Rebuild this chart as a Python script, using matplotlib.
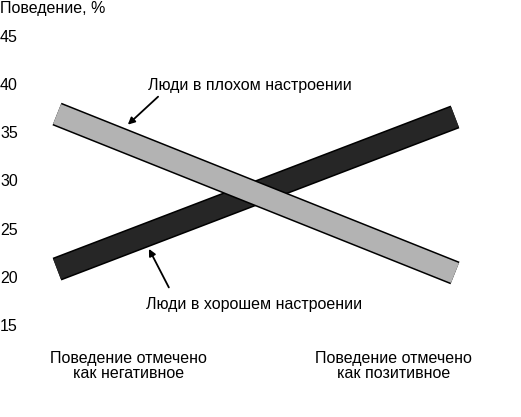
import matplotlib
matplotlib.use("Agg")
import matplotlib.pyplot as plt
import matplotlib.patheffects as pe

plt.rcParams['font.family'] = ['Liberation Sans', 'DejaVu Sans']

# Data
x_ends = [0, 1]
bad_mood = [36.9, 20.4]    # Люди в плохом настроении
good_mood = [20.8, 36.6]   # Люди в хорошем настроении
y_ticks = [15, 20, 25, 30, 35, 40, 45]
categories = ["Поведение отмечено\nкак негативное", "Поведение отмечено\nкак позитивное"]
category_pos = [0.18, 0.845]

W, H = 521, 417
fig = plt.figure(figsize=(W / 100, H / 100), dpi=100)
ax = fig.add_axes([57 / W, 92 / H, 398 / W, 289 / H])
ax.set_xlim(0, 1)
ax.set_ylim(15, 45)

lw = 17.5
for vals, col, z in [(good_mood, '#262626', 2), (bad_mood, '#b3b3b3', 3)]:
    ax.plot(x_ends, vals, color=col, lw=lw - 2.2, solid_capstyle='butt', clip_on=False,
            path_effects=[pe.Stroke(linewidth=lw, foreground='black', capstyle='butt'), pe.Normal()],
            zorder=z)

for s in ax.spines.values():
    s.set_visible(False)

ax.set_yticks(y_ticks)
ax.set_yticklabels([str(v) for v in y_ticks])
ax.tick_params(axis='y', length=0, pad=41, labelsize=11.5)
for t in ax.get_yticklabels():
    t.set_horizontalalignment('left')

ax.set_xticks(category_pos)
ax.set_xticklabels(categories, fontsize=11.5, linespacing=1.0)
ax.tick_params(axis='x', length=0, pad=19)

fig.text(0.0, 1 - 9 / H, "Поведение, %", fontsize=11.5, ha='left', va='center')

arrow = dict(arrowstyle='-|>', color='black', lw=1.3, shrinkA=0, shrinkB=0, mutation_scale=10)

ax.text(0.485, 39.9, "Люди в плохом настроении", ha='center', va='center', fontsize=11.5)
ax.annotate("", xy=(0.178, 35.8), xytext=(0.254, 38.7), arrowprops=arrow)

ax.text(0.495, 17.1, "Люди в хорошем настроении", ha='center', va='center', fontsize=11.5)
ax.annotate("", xy=(0.231, 22.9), xytext=(0.281, 18.9), arrowprops=arrow)

fig.savefig("out.png", dpi=100)
